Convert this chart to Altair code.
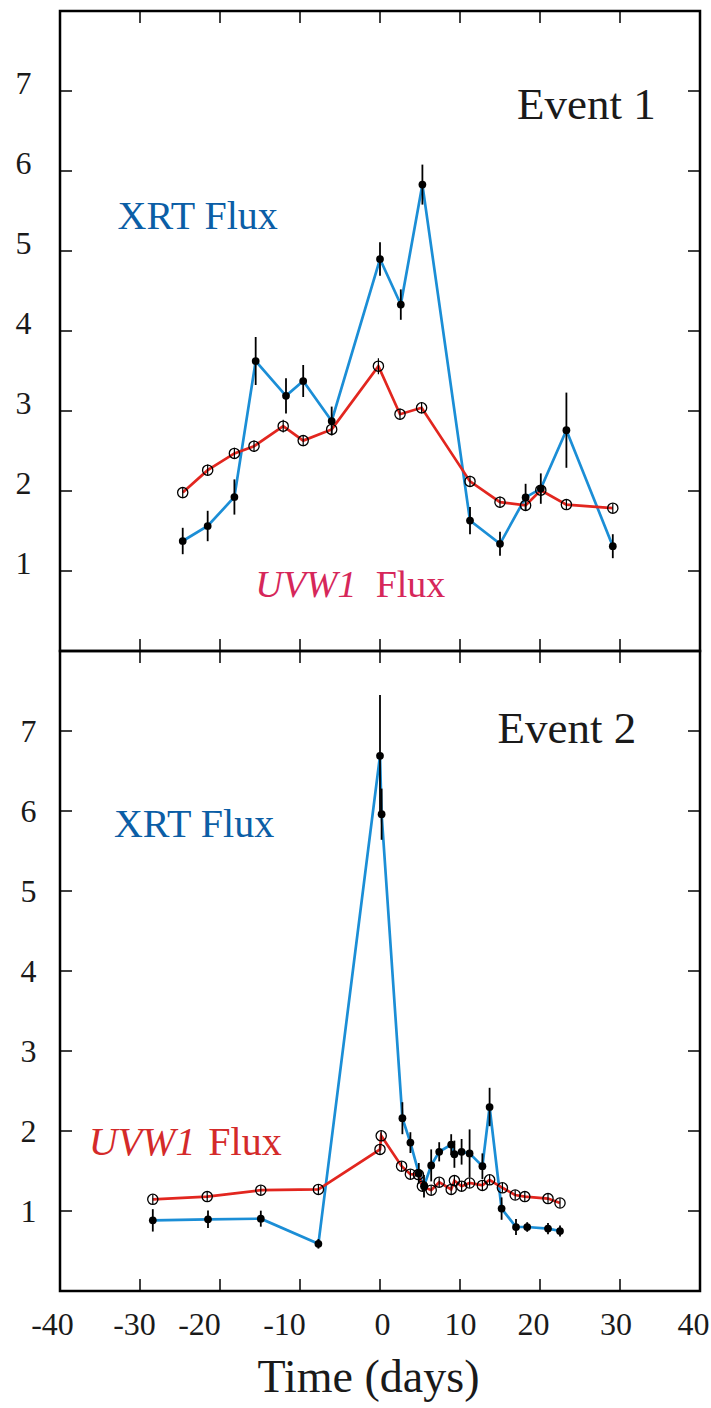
import altair as alt
import pandas as pd

# ---------------- Event 1 ----------------
e1_xrt_t = [-24.66, -21.54, -18.2, -15.54, -11.75, -9.6, -6.04, 0.0, 2.6, 5.3, 11.25, 15.0, 18.2, 20.1, 23.3, 29.1]
e1_xrt_v = [1.375, 1.5625, 1.925, 3.625, 3.19, 3.375, 2.875, 4.90, 4.33, 5.83, 1.63, 1.34, 1.92, 2.03, 2.76, 1.31]
e1_xrt_e = [0.165, 0.19, 0.22, 0.30, 0.22, 0.20, 0.18, 0.21, 0.19, 0.25, 0.17, 0.15, 0.17, 0.19, 0.47, 0.15]

e1_uv_t = [-24.66, -21.54, -18.2, -15.75, -12.1, -9.6, -6.04, -0.2, 2.5, 5.2, 11.25, 15.0, 18.2, 20.1, 23.3, 29.1]
e1_uv_v = [1.98, 2.26, 2.47, 2.56, 2.81, 2.63, 2.77, 3.56, 2.96, 3.04, 2.12, 1.86, 1.82, 2.01, 1.83, 1.785]
e1_uv_e = [0.07, 0.07, 0.07, 0.07, 0.08, 0.07, 0.07, 0.10, 0.07, 0.07, 0.07, 0.07, 0.07, 0.07, 0.06, 0.06]

# ---------------- Event 2 ----------------
e2_xrt_t = [-28.4, -21.5, -14.9, -7.7, 0.0, 0.2, 2.8, 3.8, 4.85, 5.5, 6.4, 7.4, 8.9, 9.3, 10.2, 11.2, 12.8, 13.7, 15.2, 17.0, 18.4, 21.0, 22.5]
e2_xrt_v = [0.883, 0.896, 0.904, 0.59, 6.69, 5.96, 2.16, 1.855, 1.47, 1.31, 1.57, 1.74, 1.83, 1.71, 1.74, 1.72, 1.56, 2.30, 1.03, 0.80, 0.80, 0.78, 0.75]
e2_xrt_e = [0.14, 0.11, 0.10, 0.06, 0.76, 0.32, 0.20, 0.13, 0.13, 0.14, 0.20, 0.12, 0.13, 0.17, 0.16, 0.30, 0.16, 0.24, 0.14, 0.10, 0.06, 0.07, 0.07]

e2_uv_t = [-28.4, -21.6, -14.9, -7.7, 0.0, 0.15, 2.7, 3.8, 4.8, 5.3, 6.4, 7.4, 8.9, 9.3, 10.2, 11.2, 12.8, 13.7, 15.3, 16.9, 18.1, 21.0, 22.5]
e2_uv_v = [1.146, 1.18, 1.26, 1.27, 1.77, 1.94, 1.56, 1.46, 1.455, 1.31, 1.26, 1.36, 1.27, 1.38, 1.31, 1.35, 1.32, 1.39, 1.29, 1.20, 1.18, 1.155, 1.10]
e2_uv_e = [0.06] * 23

# ---------------- annotations: (text, t, value, color, size, style) ----------------
e1_texts = [
    ("Event 1", 17.14, 6.655, "#1a1a1a", 45, "normal"),
    ("XRT Flux", -32.8, 5.275, "#0b5ea6", 40, "normal"),
    ("UVW1", -15.6, 0.675, "#d6275a", 38, "italic"),
    ("Flux", -0.54, 0.675, "#d6275a", 38, "normal"),
]
e2_texts = [
    ("Event 2", 14.7, 6.855, "#1a1a1a", 45, "normal"),
    ("XRT Flux", -33.26, 5.675, "#0b5ea6", 40, "normal"),
    ("UVW1", -36.4, 1.696, "#d42a2a", 40, "italic"),
    ("Flux", -21.46, 1.696, "#d42a2a", 40, "normal"),
]

XTICKS = [-30, -20, -10, 0, 10, 20, 30]
XLABELS = [-40, -30, -20, -10, 0, 10, 20, 30, 40]
YTICKS = [1, 2, 3, 4, 5, 6, 7]

# pixel nudges of the hand-placed tick labels in the original figure (style only)
XLABEL_NUDGE = [-8, -6, -21, -16, 2, 0, -7, -4.5, -7]

BLUE = "#1b8ed6"
RED = "#e2261f"
FONT = "Liberation Serif"
W = 640
H = 640


def panel(xt, xv, xe, ut, uv, ue, texts, bottom):
    xrt = pd.DataFrame({"t": xt, "v": xv,
                        "lo": [v - e for v, e in zip(xv, xe)],
                        "hi": [v + e for v, e in zip(xv, xe)]})
    uvd = pd.DataFrame({"t": ut, "v": uv,
                        "lo": [v - e for v, e in zip(uv, ue)],
                        "hi": [v + e for v, e in zip(uv, ue)]})
    xs = alt.Scale(domain=[-40, 40], nice=False, zero=False)
    ys = alt.Scale(domain=[0, 8], nice=False, zero=False)
    if bottom:
        cond = [{"test": "datum.value == %s" % v, "value": o} for v, o in zip(XLABELS, XLABEL_NUDGE)]
        xaxis = alt.Axis(values=XLABELS, ticks=False, domain=False, grid=False,
                         labelFont=FONT, labelFontSize=32, labelColor="#1a1a1a",
                         labelPadding=18, labelFlush=False, labelOverlap=False,
                         labelOffset={"condition": cond, "value": 0},
                         labelExpr="datum.value < 0 ? '-' + toString(-datum.value) : toString(datum.value)",
                         title="Time (days)", titleFont=FONT, titleFontSize=46,
                         titleFontWeight="normal", titleColor="#1a1a1a",
                         titleX=308, titleY=100, titleBaseline="alphabetic",
                         titleAlign="center")
    else:
        xaxis = None
    yaxis = alt.Axis(values=YTICKS, ticks=False, domain=False, grid=False, title=None,
                     labelFont=FONT, labelFontSize=32, labelColor="#1a1a1a",
                     labelPadding=24 if bottom else 29,
                     labelOffset=0 if bottom else -8)

    def X(f):
        return alt.X(f, type="quantitative", scale=xs, axis=xaxis)

    def Y(f):
        return alt.Y(f, type="quantitative", scale=ys, axis=yaxis)

    layers = []
    layers.append(alt.Chart(xrt).mark_line(color=BLUE, strokeWidth=2.7).encode(x=X("t"), y=Y("v"), order="t:Q"))
    layers.append(alt.Chart(uvd).mark_line(color=RED, strokeWidth=2.7).encode(x=X("t"), y=Y("v"), order="t:Q"))
    layers.append(alt.Chart(xrt).mark_rule(color="black", strokeWidth=1.8).encode(x=X("t"), y=Y("lo"), y2="hi:Q"))
    layers.append(alt.Chart(uvd).mark_rule(color="black", strokeWidth=1.2).encode(x=X("t"), y=Y("lo"), y2="hi:Q"))
    layers.append(alt.Chart(xrt).mark_circle(color="black", size=60, opacity=1).encode(x=X("t"), y=Y("v")))
    layers.append(alt.Chart(uvd).mark_point(shape="circle", filled=False, stroke="black",
                                            strokeWidth=1.3, size=105, opacity=1).encode(x=X("t"), y=Y("v")))

    # inward ticks on all four sides
    xtk = pd.DataFrame({"tv": XTICKS})
    ytk = pd.DataFrame({"yv": YTICKS})
    layers.append(alt.Chart(xtk).mark_rule(color="black", strokeWidth=1.5).encode(
        x=X("tv"), y=alt.value(0), y2=alt.value(12)))
    layers.append(alt.Chart(xtk).mark_rule(color="black", strokeWidth=1.5).encode(
        x=X("tv"), y=alt.value(H - 12), y2=alt.value(H)))
    layers.append(alt.Chart(ytk).mark_rule(color="black", strokeWidth=1.5).encode(
        y=Y("yv"), x=alt.value(0), x2=alt.value(12)))
    layers.append(alt.Chart(ytk).mark_rule(color="black", strokeWidth=1.5).encode(
        y=Y("yv"), x=alt.value(W - 12), x2=alt.value(W)))

    for (txt, t, v, col, fs, style) in texts:
        d = pd.DataFrame({"t": [t], "v": [v], "label": [txt]})
        layers.append(alt.Chart(d).mark_text(align="left", baseline="alphabetic", font=FONT,
                                             fontSize=fs, color=col, fontStyle=style).encode(
            x=X("t"), y=Y("v"), text="label:N"))

    return alt.layer(*layers).properties(width=W, height=H)


top = panel(e1_xrt_t, e1_xrt_v, e1_xrt_e, e1_uv_t, e1_uv_v, e1_uv_e, e1_texts, False)
bot = panel(e2_xrt_t, e2_xrt_v, e2_xrt_e, e2_uv_t, e2_uv_v, e2_uv_e, e2_texts, True)

chart = alt.vconcat(top, bot, spacing=0, bounds="flush").properties(
    padding={"left": 13, "top": 9, "right": 0, "bottom": 0},
    background="white",
).configure_view(stroke="black", strokeWidth=2.5)

chart.save("out.html", embed_options={"renderer": "svg", "actions": False})
